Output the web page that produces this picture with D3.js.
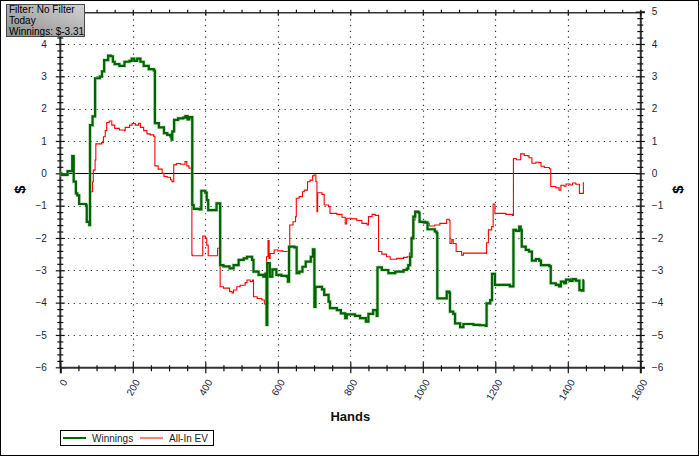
<!DOCTYPE html>
<html><head><meta charset="utf-8">
<script src="https://cdn.jsdelivr.net/npm/d3@7"></script>
<style>
html,body{margin:0;padding:0;background:#fff;}
svg{display:block;}
</style></head>
<body>
<svg id="chart" width="700" height="457"></svg>
<script>
// ---- data ----
const winHands = [0,3,20,33,37,43,47,52,71,73,80,82,89,96,109,115,121,132,139,145,150,163,177,191,197,204,212,221,230,244,258,261,272,286,295,304,307,309,314,325,339,345,351,356,364,368,384,389,400,404,408,426,431,441,450,467,478,492,506,515,529,533,547,560,566,569,571,578,585,596,610,625,628,631,646,652,659,668,677,691,697,701,704,722,728,740,744,763,774,786,790,804,813,827,843,850,863,873,875,887,905,924,947,956,960,965,969,974,979,988,991,1006,1013,1033,1038,1040,1066,1073,1075,1084,1089,1103,1112,1140,1158,1174,1176,1186,1191,1199,1222,1240,1250,1257,1266,1270,1273,1284,1293,1301,1312,1321,1326,1349,1353,1367,1376,1381,1390,1395,1406,1413,1422,1432,1439,1443,1445];
const winnings = [0,-0.05,0.07,0.53,-0.26,-0.62,-0.68,-0.95,-1.0,-1.5,-1.6,1.49,1.76,2.94,2.99,3.15,3.50,3.64,3.62,3.45,3.38,3.32,3.45,3.48,3.55,3.48,3.55,3.45,3.32,3.22,3.18,1.55,1.42,1.24,1.19,1.14,1.04,1.30,1.65,1.70,1.72,1.77,1.67,1.74,-0.98,-1.10,-1.12,-0.54,-0.60,-0.83,-1.14,-1.14,-0.93,-2.84,-2.88,-2.94,-2.84,-2.68,-2.63,-2.58,-2.68,-3.04,-3.14,-3.20,-3.10,-4.69,-2.78,-3.20,-2.97,-3.14,-3.17,-3.20,-3.35,-2.27,-2.29,-3.09,-3.04,-2.89,-2.73,-2.58,-2.35,-4.13,-3.51,-3.59,-3.76,-3.97,-4.17,-4.23,-4.33,-4.48,-4.36,-4.36,-4.41,-4.48,-4.59,-4.35,-4.23,-4.41,-2.91,-2.99,-3.09,-3.04,-2.99,-2.95,-2.84,-2.58,-2.01,-1.34,-1.19,-1.22,-1.50,-1.52,-1.73,-1.80,-1.85,-3.87,-3.66,-3.70,-4.28,-4.35,-4.64,-4.76,-4.66,-4.69,-4.70,-4.72,-4.02,-3.92,-3.11,-3.45,-3.45,-3.50,-1.75,-1.78,-1.65,-1.75,-2.27,-2.37,-2.42,-2.70,-2.65,-2.70,-2.84,-2.87,-3.40,-3.45,-3.50,-3.35,-3.40,-3.29,-3.33,-3.27,-3.32,-3.61,-3.63,-3.31,-3.31];

const evHands = [0,3,20,33,37,43,47,52,71,73,80,82,89,91,96,98,114,119,124,128,135,142,150,163,177,179,191,198,207,216,221,230,239,248,258,261,270,281,286,295,304,308,313,320,332,344,349,355,362,363,365,393,400,404,408,431,434,441,450,467,474,478,487,496,510,515,524,530,533,543,556,563,568,569,573,576,579,590,600,614,631,633,642,649,651,659,668,673,682,689,696,700,705,708,710,722,728,740,744,763,777,786,790,804,818,832,846,850,860,869,878,887,900,910,928,947,957,963,969,972,979,988,991,1001,1018,1033,1047,1066,1073,1075,1080,1084,1092,1107,1112,1174,1176,1181,1190,1194,1199,1229,1247,1250,1258,1270,1280,1289,1293,1301,1312,1321,1326,1335,1349,1353,1367,1376,1381,1390,1395,1406,1413,1422,1432,1439,1443,1445];
const allInEV = [0,-0.05,0.07,0.45,-0.26,-0.62,-0.68,-0.95,-1.0,-1.5,-1.6,-0.57,-0.26,0.10,0.41,0.91,0.95,1.13,1.32,1.57,1.62,1.49,1.39,1.34,1.32,1.42,1.49,1.54,1.49,1.55,1.42,1.32,1.22,1.19,1.14,0.23,0.13,0.0,-0.10,-0.12,-0.20,-0.26,0.26,0.30,0.28,0.36,0.23,0.16,0.16,-2.53,-2.55,-1.94,-2.0,-2.22,-2.55,-2.55,-2.32,-3.51,-3.55,-3.66,-3.70,-3.61,-3.51,-3.46,-3.38,-3.30,-3.35,-3.30,-3.82,-3.87,-3.92,-4.04,-4.07,-2.58,-2.08,-2.63,-2.48,-2.37,-2.40,-2.42,-2.42,-1.60,-1.50,-1.34,-0.77,-0.72,-0.57,-0.52,-0.26,-0.21,-0.08,-0.05,-0.26,-1.19,-0.60,-0.65,-0.98,-1.03,-1.24,-1.27,-1.36,-1.57,-1.39,-1.41,-1.46,-1.55,-1.60,-1.34,-1.27,-1.30,-2.42,-2.50,-2.58,-2.66,-2.63,-2.60,-2.58,-2.47,-1.96,-1.44,-1.16,-1.19,-1.50,-1.55,-1.63,-1.60,-1.55,-1.42,-1.46,-2.17,-2.05,-2.17,-2.42,-2.53,-2.47,-2.48,-2.15,-1.75,-1.65,-0.95,-1.24,-1.27,-1.30,0.46,0.42,0.60,0.55,0.54,0.48,0.31,0.34,0.33,0.22,0.18,0.14,-0.41,-0.45,-0.52,-0.37,-0.40,-0.33,-0.36,-0.30,-0.34,-0.62,-0.62,-0.29,-0.29];

const xMajorTicks = [0,200,400,600,800,1000,1200,1400,1600];
const yMajorTicks = [-6,-5,-4,-3,-2,-1,0,1,2,3,4,5];
const yLeftLabelTicks = [-6,-5,-4,-3,-2,-1,0,1,2,3,4]; // the "5" on the left is hidden by the info box
const seriesNames = ["Winnings","All-In EV"];
const seriesColors = ["#006400","#ff0000"];
const infoLines = ["Filter: No Filter","Today","Winnings: $-3.31"];
const xTitle = "Hands";
const yTitle = "$";

// ---- layout ----
const svg = d3.select("#chart");
const X0 = 60.3, X1 = 640.3, Y0 = 367.3, Y1 = 11.65;
const x = d3.scaleLinear().domain([0,1600]).range([X0,X1]);
const y = d3.scaleLinear().domain([-6,5]).range([Y0,Y1]);
const xMinor = d3.range(0,1601,50).filter(v => v % 200 !== 0);
const yMinor = d3.range(-60,51,2).map(v => v/10).filter(v => Math.abs(v - Math.round(v)) > 1e-9);

const font = "'Liberation Sans', Arial, sans-serif";
const tickColor = "#1c1c44";

// outer border
svg.append("rect").attr("x",0.5).attr("y",0.5).attr("width",698).attr("height",455)
  .attr("fill","#fff").attr("stroke","#000");

// grid
const grid = svg.append("g").attr("stroke","#333").attr("stroke-width",1.2).attr("stroke-dasharray","1.2,4.5");
grid.selectAll("line.v").data(xMajorTicks.filter(v => v>0 && v<1600)).join("line")
  .attr("class","v")
  .attr("x1",d=>Math.round(x(d))+0.5).attr("x2",d=>Math.round(x(d))+0.5).attr("y1",Y1+2).attr("y2",Y0);
grid.selectAll("line.h").data(yMajorTicks.filter(v => v>-6 && v<5 && v!==0)).join("line")
  .attr("class","h")
  .attr("y1",d=>Math.round(y(d))+0.5).attr("y2",d=>Math.round(y(d))+0.5).attr("x1",X0+2).attr("x2",X1);

// zero line
svg.append("line").attr("x1",X0).attr("x2",X1).attr("y1",Math.round(y(0))+0.5).attr("y2",Math.round(y(0))+0.5)
  .attr("stroke","#000").attr("stroke-width",1);

// top frame line
svg.append("line").attr("x1",X0).attr("x2",X1).attr("y1",y(5)+1).attr("y2",y(5)+1).attr("stroke","#333").attr("stroke-width",1.5);

function styleAxis(g){
  g.selectAll("path.domain").attr("stroke","#333").attr("stroke-width",2);
  g.selectAll(".tick line").attr("stroke","#111").attr("stroke-width",1.2);
  g.selectAll("text").attr("fill",tickColor).style("font-family",font).style("font-size","10px");
}
function noDomain(g){ g.select("path.domain").remove(); g.selectAll(".tick line").attr("stroke","#111").attr("stroke-width",1.2); }

// left axis
const gl = svg.append("g").attr("transform",`translate(${X0},0)`)
  .call(d3.axisLeft(y).tickValues(yLeftLabelTicks).tickSize(4.5).tickPadding(9).tickFormat(d3.format("d")));
styleAxis(gl);
gl.select("path.domain").attr("d",`M0,${Y0}V${Y1}`);
svg.append("g").attr("transform",`translate(${X0},0)`).call(d3.axisLeft(y).tickValues([5]).tickSize(4.5).tickFormat("")).call(noDomain);
svg.append("g").attr("transform",`translate(${X0},0)`).call(d3.axisRight(y).tickValues(yMajorTicks).tickSize(4.5).tickFormat("")).call(noDomain);
svg.append("g").attr("transform",`translate(${X0},0)`).call(d3.axisLeft(y).tickValues(yMinor).tickSize(3).tickFormat("")).call(noDomain);
svg.append("g").attr("transform",`translate(${X0},0)`).call(d3.axisRight(y).tickValues(yMinor).tickSize(3).tickFormat("")).call(noDomain);

// right axis
const gr = svg.append("g").attr("transform",`translate(${X1},0)`)
  .call(d3.axisRight(y).tickValues(yMajorTicks).tickSize(4.5).tickPadding(7).tickFormat(d3.format("d")));
styleAxis(gr);
svg.append("g").attr("transform",`translate(${X1},0)`).call(d3.axisLeft(y).tickValues(yMajorTicks).tickSize(4.5).tickFormat("")).call(noDomain);
svg.append("g").attr("transform",`translate(${X1},0)`).call(d3.axisLeft(y).tickValues(yMinor).tickSize(3).tickFormat("")).call(noDomain);
svg.append("g").attr("transform",`translate(${X1},0)`).call(d3.axisRight(y).tickValues(yMinor).tickSize(3).tickFormat("")).call(noDomain);

// bottom axis
const gb = svg.append("g").attr("transform",`translate(0,${Y0})`)
  .call(d3.axisBottom(x).tickValues(xMajorTicks).tickSize(6).tickFormat(d3.format("d")));
styleAxis(gb);
gb.selectAll("text").attr("x",0).attr("y",0).attr("dy","0.35em")
  .attr("transform","translate(4,13) rotate(-60)").style("text-anchor","end");
svg.append("g").attr("transform",`translate(0,${Y0})`).call(d3.axisTop(x).tickValues(xMajorTicks).tickSize(5).tickFormat("")).call(noDomain);
svg.append("g").attr("transform",`translate(0,${Y0})`).call(d3.axisBottom(x).tickValues(xMinor).tickSize(4).tickFormat("")).call(noDomain);
svg.append("g").attr("transform",`translate(0,${Y0})`).call(d3.axisTop(x).tickValues(xMinor).tickSize(2).tickFormat("")).call(noDomain);

// top axis ticks
svg.append("g").attr("transform",`translate(0,${y(5)+1})`).call(d3.axisTop(x).tickValues(xMajorTicks).tickSize(3).tickFormat("")).call(noDomain);
svg.append("g").attr("transform",`translate(0,${y(5)+1})`).call(d3.axisBottom(x).tickValues(xMajorTicks).tickSize(3).tickFormat("")).call(noDomain);
svg.append("g").attr("transform",`translate(0,${y(5)+1})`).call(d3.axisTop(x).tickValues(xMinor).tickSize(3).tickFormat("")).call(noDomain);

// lines
const line = d3.line().x(d=>x(d[0])).y(d=>y(d[1])).curve(d3.curveStepAfter);
const evData = d3.zip(evHands, allInEV);
const winData = d3.zip(winHands, winnings);
svg.append("path").datum(evData).attr("d",line).attr("fill","none")
  .attr("stroke",seriesColors[1]).attr("stroke-width",1.1);
svg.append("path").datum(winData).attr("d",line).attr("fill","none")
  .attr("stroke","#9fd09f").attr("stroke-width",3.6).attr("stroke-opacity",0.6);
svg.append("path").datum(winData).attr("d",line).attr("fill","none")
  .attr("stroke",seriesColors[0]).attr("stroke-width",2.2);

// axis titles
svg.append("text").attr("x",(X0+X1)/2).attr("y",421).attr("text-anchor","middle")
  .style("font-family",font).style("font-weight","bold").style("font-size","13px").attr("fill","#111").text(xTitle);
svg.append("text").attr("transform",`translate(25,${(Y0+Y1)/2}) rotate(-90)`).attr("text-anchor","middle")
  .style("font-family",font).style("font-weight","bold").style("font-size","15px").attr("fill","#000").text(yTitle);
svg.append("text").attr("transform",`translate(683,${(Y0+Y1)/2}) rotate(-90)`).attr("text-anchor","middle")
  .style("font-family",font).style("font-weight","bold").style("font-size","15px").attr("fill","#000").text(yTitle);

// info box
const defs = svg.append("defs");
const grad = defs.append("linearGradient").attr("id","infoGrad").attr("x1","0").attr("y1","1").attr("x2","1").attr("y2","0");
grad.append("stop").attr("offset","0%").attr("stop-color","#8e8e8e");
grad.append("stop").attr("offset","100%").attr("stop-color","#d2d2d2");
svg.append("rect").attr("x",6.5).attr("y",4.5).attr("width",78).attr("height",32)
  .attr("fill","url(#infoGrad)").attr("stroke","#4a4a4a");
svg.append("g").selectAll("text").data(infoLines).join("text")
  .attr("x",9).attr("y",(d,i)=>13+i*11)
  .style("font-family",font).style("font-size","10px").attr("fill","#000").text(d=>d);

// legend
const lg = svg.append("g");
lg.append("rect").attr("x",60.5).attr("y",430.5).attr("width",153).attr("height",15).attr("fill","#fff").attr("stroke","#000");
const legX = [63,140];
seriesNames.forEach((n,i)=>{
  lg.append("line").attr("x1",legX[i]).attr("x2",legX[i]+23).attr("y1",438).attr("y2",438)
    .attr("stroke",seriesColors[i]).attr("stroke-width", i===0?2:1);
  lg.append("text").attr("x",legX[i]+29).attr("y",441.5)
    .style("font-family",font).style("font-size","10px").attr("fill","#1a1a1a").text(n);
});
</script>
</body></html>
